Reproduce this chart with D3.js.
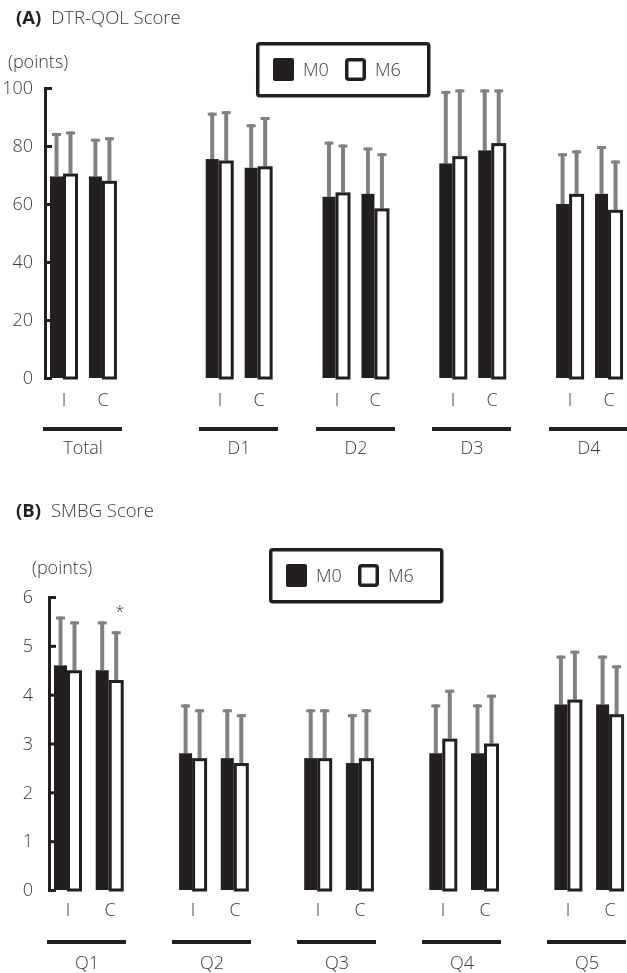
<!DOCTYPE html>
<html>
<head>
<meta charset="utf-8">
<script src="https://cdn.jsdelivr.net/npm/d3@7"></script>
<style>
  body { margin: 0; background: #fff; }
  svg { will-change: transform; }
  text { font-family: "Open Sans", sans-serif; font-weight: 300; fill: #3a3a3a; }
</style>
</head>
<body>
<svg id="chart" width="627" height="973"></svg>
<script>
// shared categories
var arms = ["I", "C"];
var periods = ["M0", "M6"];

// panel A: DTR-QOL, order per group = I-M0, I-M6, C-M0, C-M6
var groupsA = ["Total", "D1", "D2", "D3", "D4"];
var meanA = [
  [69.5, 70.5, 69.5, 68],
  [75.5, 75, 72.5, 73],
  [62.5, 64, 63.5, 58.5],
  [74, 76.5, 78.5, 81],
  [60, 63.5, 63.5, 58]
];
var sdA = [
  [15, 14.5, 13, 15],
  [16, 17, 15, 17],
  [19, 16.5, 16, 19],
  [25, 23, 21, 18.5],
  [17.5, 15, 16.5, 17]
];
var ticksA = [0, 20, 40, 60, 80, 100];

// panel B: SMBG
var groupsB = ["Q1", "Q2", "Q3", "Q4", "Q5"];
var meanB = [
  [4.6, 4.5, 4.5, 4.3],
  [2.8, 2.7, 2.7, 2.6],
  [2.7, 2.7, 2.6, 2.7],
  [2.8, 3.1, 2.8, 3.0],
  [3.8, 3.9, 3.8, 3.6]
];
var sdB = [
  [1.0, 1.0, 1.0, 1.0],
  [1.0, 1.0, 1.0, 1.0],
  [1.0, 1.0, 1.0, 1.0],
  [1.0, 1.0, 1.0, 1.0],
  [1.0, 1.0, 1.0, 1.0]
];
var ticksB = [0, 1, 2, 3, 4, 5, 6];
// Q1, arm C, M6
var sigB = [{ group: 0, arm: 1, period: 1, mark: "*" }];

var INK = "#231f20";
var ERR = "#808080";

var svg = d3.select("#chart");

function drawPanel(p) {
  var g = svg.append("g");
  var y = d3.scaleLinear().domain([0, d3.max(p.ticks)]).range([p.y0, p.yTop]);
  var slot = d3.scaleLinear().domain([0, 1]).range([p.x0, p.x0 + p.slotW]);
  function slotOf(gi, ai) { return gi * 3 + (gi > 0 ? p.extraGap : 0) + ai; }

  // title
  var t = g.append("text").attr("x", 16).attr("y", p.titleY).style("font-size", "18.5px");
  t.append("tspan").style("font-weight", "700").attr("fill", "#222").text(p.letter);
  t.append("tspan").attr("dx", 10).text(p.title);

  g.append("text").attr("x", p.unitX).attr("y", p.unitY).attr("dy", "0.35em")
    .style("font-size", "18px").text("(points)");

  // legend
  var leg = g.append("g").attr("transform", "translate(" + p.legX + "," + p.legY + ")");
  leg.append("rect").attr("x", 1.75).attr("y", 1.75).attr("width", 171).attr("height", 52)
    .attr("rx", 2).attr("fill", "#fff").attr("stroke", INK).attr("stroke-width", 3.5);
  periods.forEach(function (per, i) {
    var lx = 17 + i * 72;
    leg.append("rect")
      .attr("x", i ? lx + 1.75 : lx).attr("y", i ? 17.75 : 16)
      .attr("width", i ? 17.5 : 21).attr("height", i ? 19.5 : 23)
      .attr("rx", 2).attr("fill", i ? "#fff" : INK)
      .attr("stroke", i ? INK : "none").attr("stroke-width", 3.5);
    leg.append("text").attr("x", lx + 30).attr("y", 28).attr("dy", "0.35em")
      .style("font-size", "18px").text(per);
  });

  // rows
  var rows = [];
  p.groups.forEach(function (name, gi) {
    arms.forEach(function (arm, ai) {
      periods.forEach(function (per, pi) {
        var k = ai * 2 + pi;
        var left = slot(slotOf(gi, ai)) + (pi ? 14.5 : 0);
        rows.push({ gi: gi, ai: ai, pi: pi, mean: p.mean[gi][k], sd: p.sd[gi][k],
          left: left, cx: pi ? left + 6 : left + 6.5 });
      });
    });
  });

  // error bars
  var eb = g.append("g");
  eb.selectAll("line.err").data(rows).join("line").attr("class", "err")
    .attr("x1", function (d) { return d.cx; }).attr("x2", function (d) { return d.cx; })
    .attr("y1", function (d) { return y(d.mean); })
    .attr("y2", function (d) { return y(d.mean + d.sd); })
    .attr("stroke", ERR).attr("stroke-width", 4);
  eb.selectAll("line.cap").data(rows).join("line").attr("class", "cap")
    .attr("x1", function (d) { return d.cx - 4.5; }).attr("x2", function (d) { return d.cx + 4.5; })
    .attr("y1", function (d) { return y(d.mean + d.sd) + 1.5; })
    .attr("y2", function (d) { return y(d.mean + d.sd) + 1.5; })
    .attr("stroke", ERR).attr("stroke-width", 3);

  // bars
  g.selectAll("rect.m0").data(rows.filter(function (d) { return d.pi === 0; })).join("rect")
    .attr("class", "m0")
    .attr("x", function (d) { return d.left; })
    .attr("y", function (d) { return y(d.mean); })
    .attr("width", 13)
    .attr("height", function (d) { return p.y0 - y(d.mean); })
    .attr("fill", INK);
  g.selectAll("rect.m6").data(rows.filter(function (d) { return d.pi === 1; })).join("rect")
    .attr("class", "m6")
    .attr("x", function (d) { return d.left; })
    .attr("y", function (d) { return y(d.mean) + 1.5; })
    .attr("width", 12)
    .attr("height", function (d) { return p.y0 - y(d.mean) - 1.5; })
    .attr("fill", "#fff").attr("stroke", INK).attr("stroke-width", 3);

  // axis
  var axis = d3.axisLeft(y).tickValues(p.ticks).tickSizeInner(-7).tickSizeOuter(-7)
    .tickPadding(p.tickPad).tickFormat(d3.format("d"));
  var ax = g.append("g").attr("transform", "translate(" + p.axisX + ",0)").call(axis);
  ax.selectAll("path, line").attr("stroke", INK).attr("stroke-width", 3);
  ax.selectAll("text").style("font-size", "18px").attr("fill", "#3a3a3a");

  // arm labels
  var armRows = [];
  p.groups.forEach(function (name, gi) {
    arms.forEach(function (arm, ai) { armRows.push({ gi: gi, ai: ai, arm: arm }); });
  });
  g.selectAll("text.arm").data(armRows).join("text").attr("class", "arm")
    .attr("x", function (d) { return Math.round(slot(slotOf(d.gi, d.ai)) + 14); })
    .attr("y", p.armY).attr("dy", "0.35em").attr("text-anchor", "middle")
    .style("font-size", "18px").text(function (d) { return d.arm; });

  // group underline + name
  var grp = g.selectAll("g.grp").data(p.groups).join("g").attr("class", "grp")
    .attr("transform", function (d, gi) { return "translate(" + Math.round(slot(slotOf(gi, 0)) - 7) + ",0)"; });
  grp.append("line").attr("x1", 0).attr("x2", 79).attr("y1", p.lineY).attr("y2", p.lineY)
    .attr("stroke", INK).attr("stroke-width", 4);
  grp.append("text").attr("x", 40).attr("y", p.nameY).attr("dy", "0.35em")
    .attr("text-anchor", "middle").style("font-size", "18px").text(function (d) { return d; });

  // significance marks
  (p.sig || []).forEach(function (s) {
    var r = rows.filter(function (d) { return d.gi === s.group && d.ai === s.arm && d.pi === s.period; })[0];
    g.append("text").attr("x", Math.round(r.cx + 4)).attr("y", y(r.mean + r.sd) - 14)
      .attr("text-anchor", "middle").style("font-size", "16px").attr("fill", "#555").text(s.mark);
  });
}

drawPanel({
  letter: "(A)", title: "DTR-QOL Score", titleY: 24,
  groups: groupsA, mean: meanA, sd: sdA, ticks: ticksA,
  y0: 378, yTop: 88, x0: 50, slotW: 38.93, extraGap: 1,
  axisX: 45, tickPad: 12, unitX: 8, unitY: 62,
  legX: 256, legY: 42, armY: 400, lineY: 429, nameY: 448
});

drawPanel({
  letter: "(B)", title: "SMBG Score", titleY: 517,
  groups: groupsB, mean: meanB, sd: sdB, ticks: ticksB, sig: sigB,
  y0: 890, yTop: 597, x0: 54, slotW: 41.7, extraGap: 0,
  axisX: 49, tickPad: 16, unitX: 32, unitY: 568,
  legX: 269, legY: 548, armY: 910, lineY: 942, nameY: 963
});
</script>
</body>
</html>
